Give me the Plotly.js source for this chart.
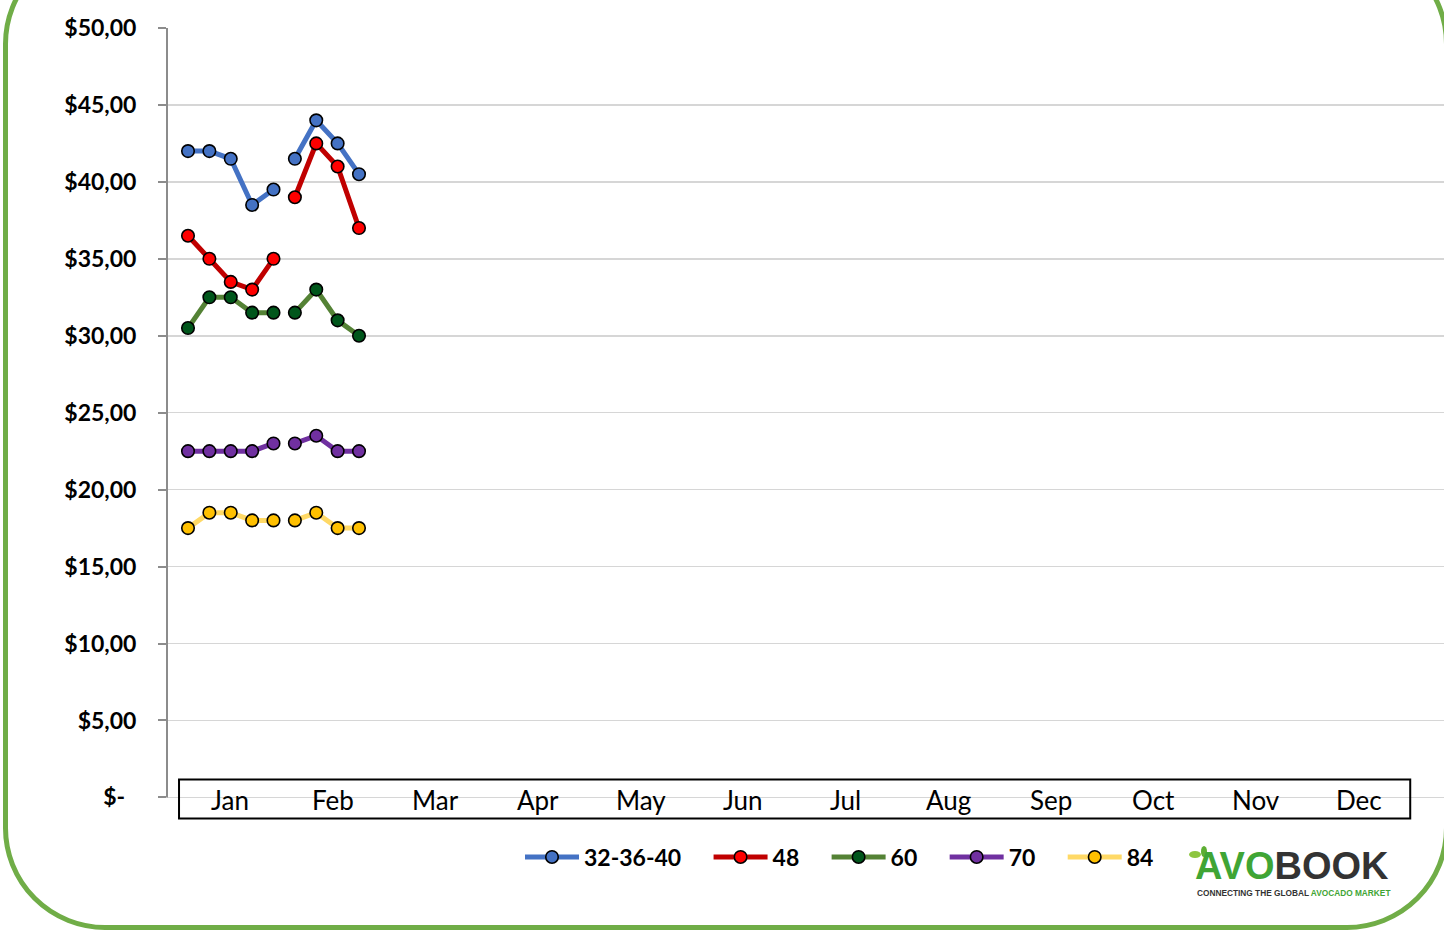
<!DOCTYPE html>
<html>
<head>
<meta charset="utf-8">
<script src="https://cdn.plot.ly/plotly-3.0.1.min.js"></script>
<style>
  html, body { margin: 0; padding: 0; background: #ffffff; overflow: hidden; }
  #wrap { position: relative; width: 1444px; height: 931px; overflow: hidden; }
  #chart { position: absolute; left: 0; top: 0; width: 1444px; height: 931px; }
  #frame { position: absolute; left: 3px; top: -58px; width: 1446px; height: 988px;
           box-sizing: border-box; border: 5px solid #70AD47; border-radius: 102px;
           pointer-events: none; }
</style>
</head>
<body>
<div id="wrap">
  <div id="chart"></div>
  <div id="frame"></div>
</div>
<script>
// ---------------- data ----------------
const months = ['Jan','Feb','Mar','Apr','May','Jun','Jul','Aug','Sep','Oct','Nov','Dec'];
const weeksJan = [1, 2, 3, 4, 5];
const weeksFeb = [6, 7, 8, 9];

const seriesNames = ['32-36-40', '48', '60', '70', '84'];

const jan_32_36_40 = [42.0, 42.0, 41.5, 38.5, 39.5];
const feb_32_36_40 = [41.5, 44.0, 42.5, 40.5];
const jan_48 = [36.5, 35.0, 33.5, 33.0, 35.0];
const feb_48 = [39.0, 42.5, 41.0, 37.0];
const jan_60 = [30.5, 32.5, 32.5, 31.5, 31.5];
const feb_60 = [31.5, 33.0, 31.0, 30.0];
const jan_70 = [22.5, 22.5, 22.5, 22.5, 23.0];
const feb_70 = [23.0, 23.5, 22.5, 22.5];
const jan_84 = [17.5, 18.5, 18.5, 18.0, 18.0];
const feb_84 = [18.0, 18.5, 17.5, 17.5];

const yTickValues = [0, 5, 10, 15, 20, 25, 30, 35, 40, 45, 50];
const yTickLabels = ['$-', '$5,00', '$10,00', '$15,00', '$20,00', '$25,00',
                     '$30,00', '$35,00', '$40,00', '$45,00', '$50,00'];

// ---------------- styles ----------------
const lineColors   = ['#4472C4', '#C00000', '#548235', '#7030A0', '#FFD966'];
const markerColors = ['#4472C4', '#FF0000', '#00561B', '#7030A0', '#FFC000'];

const janData = [jan_32_36_40, jan_48, jan_60, jan_70, jan_84];
const febData = [feb_32_36_40, feb_48, feb_60, feb_70, feb_84];

const legendPad = '\u00a0'.repeat(4);   // extra spacing between legend entries

const traces = [];
seriesNames.forEach((name, i) => {
  const label = i < seriesNames.length - 1 ? name + legendPad : name;
  const common = {
    type: 'scatter', mode: 'lines+markers', name: label, legendgroup: name,
    line: { color: lineColors[i], width: 5 },
    marker: { color: markerColors[i], size: 12.5, line: { color: '#000000', width: 1.6 } },
    hoverinfo: 'x+y'
  };
  traces.push(Object.assign({}, common, { x: weeksJan, y: janData[i], showlegend: true }));
  traces.push(Object.assign({}, common, { x: weeksFeb, y: febData[i], showlegend: false }));
});

// ---------------- layout geometry ----------------
const W = 1444, H = 931;
const mL = 167, mR = 0, mT = 28, mB = 109;
const plotW = W - mL - mR, plotH = H - mT - mB;
const px = (xp) => (xp - mL) / plotW;      // pixel -> paper x
const py = (yp) => (H - mB - yp) / plotH;  // pixel -> paper y

const axisStart = 0.58;       // week position where the month band starts
const weeksPerMonth = 4.8;    // width of one month band in week units

const monthAnnotations = months.map((m, i) => ({
  x: axisStart + (i + 0.5) * weeksPerMonth, y: -0.2, xref: 'x', yref: 'y',
  text: m, showarrow: false, xanchor: 'center', yanchor: 'middle',
  font: { family: 'Lato, "Open Sans", sans-serif', size: 26, color: '#000000' }
}));

const logoAnnotations = [
  {
    x: px(1292), y: py(866), xref: 'paper', yref: 'paper', showarrow: false,
    xanchor: 'center', yanchor: 'middle',
    text: '<span style="color:#3FA535">AVO</span><span style="color:#333333">BOOK</span>',
    font: { family: '"Liberation Sans", Arial, sans-serif', size: 38, weight: 700, color: '#333333' }
  },
  {
    x: px(1293), y: py(893), xref: 'paper', yref: 'paper', showarrow: false,
    xanchor: 'center', yanchor: 'middle',
    text: '<span style="color:#333333">CONNECTING THE GLOBAL </span><span style="color:#3FA535">AVOCADO MARKET</span>',
    font: { family: '"Liberation Sans", Arial, sans-serif', size: 8.3, weight: 700, color: '#333333' }
  }
];

const shapes = [
  // y axis line (only from 0 to 50)
  { type: 'line', xref: 'paper', yref: 'y', x0: 0, x1: 0, y0: 0, y1: 50,
    line: { color: '#8C8C8C', width: 2 }, layer: 'above' },
  // month band box
  { type: 'rect', xref: 'x', yref: 'y',
    x0: axisStart, x1: axisStart + months.length * weeksPerMonth, y0: -1.37, y1: 1.17,
    line: { color: '#000000', width: 2 }, fillcolor: 'rgba(0,0,0,0)', layer: 'above' },
  // logo leaves
  { type: 'circle', xref: 'paper', yref: 'paper',
    x0: px(1189), x1: px(1201), y0: py(858), y1: py(851),
    line: { width: 0 }, fillcolor: '#8DC63F' },
  { type: 'circle', xref: 'paper', yref: 'paper',
    x0: px(1201), x1: px(1207), y0: py(857), y1: py(846),
    line: { width: 0 }, fillcolor: '#5DAE32' }
];

const layout = {
  width: W, height: H,
  margin: { l: mL, r: mR, t: mT, b: mB, pad: 0 },
  paper_bgcolor: 'rgba(0,0,0,0)', plot_bgcolor: 'rgba(0,0,0,0)',
  showlegend: true,
  legend: {
    orientation: 'h', x: px(520), xanchor: 'left', y: py(857), yanchor: 'middle',
    font: { family: 'Lato, "Open Sans", sans-serif', size: 23, color: '#000000', weight: 700 },
    itemwidth: 54, bgcolor: 'rgba(0,0,0,0)', tracegroupgap: 0
  },
  xaxis: {
    range: [0.0175, 59.76], showgrid: false, zeroline: false, showline: false,
    showticklabels: false, ticks: '', fixedrange: true
  },
  yaxis: {
    range: [-1.6, 50], tickmode: 'array', tickvals: yTickValues,
    ticktext: yTickLabels.map((t, i) => yTickValues[i] === 0 ? t + '\u00a0\u00a0' : t),
    showgrid: true, gridcolor: '#D6D6D6', gridwidth: 1.6, zeroline: false, showline: false,
    ticks: 'outside', ticklen: 8, tickwidth: 2, tickcolor: '#8C8C8C',
    ticklabelstandoff: 17,
    tickfont: { family: 'Lato, "Open Sans", sans-serif', size: 23, color: '#000000', weight: 700 },
    fixedrange: true
  },
  shapes: shapes,
  annotations: monthAnnotations.concat(logoAnnotations)
};

Plotly.newPlot('chart', traces, layout, { displayModeBar: false, staticPlot: true });
</script>
</body>
</html>
